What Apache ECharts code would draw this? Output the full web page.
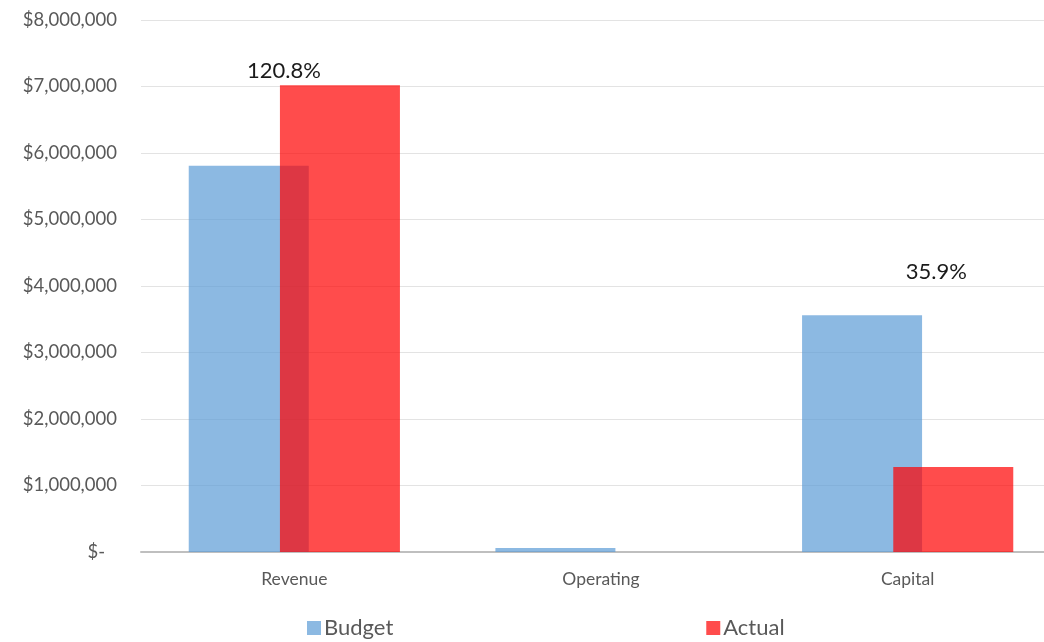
<!DOCTYPE html>
<html><head><meta charset="utf-8">
<script src="https://cdn.jsdelivr.net/npm/echarts@6/dist/echarts.min.js"></script>
<style>html,body{margin:0;padding:0;background:#fff}#c{width:1044px;height:642px}</style>
</head><body><div id="c"></div>
<script>
var categories = ['Revenue', 'Operating', 'Capital'];
var budget = [5810000, 60000, 3560000];
var actual = [7020000, 0, 1278000];
var pctLabels = ['120.8%', '', '35.9%'];
var yTicks = [0, 1000000, 2000000, 3000000, 4000000, 5000000, 6000000, 7000000, 8000000];

var labelOffsets = [[-56, 0], [0, 0], [-17, -181]];
var FONT = 'Lato';

var chart = echarts.init(document.getElementById('c'), null, {renderer: 'canvas'});
chart.setOption({
  animation: false,
  textStyle: {fontFamily: FONT},
  grid: {left: 141, right: -17, top: 20, bottom: 90, containLabel: false, outerBoundsMode: 'none'},
  legend: {
    bottom: -2, left: 302, itemGap: 313, itemWidth: 14, itemHeight: 14,
    icon: 'rect',
    textStyle: {fontSize: 22, color: '#595959', fontFamily: FONT, padding: [0, 0, 0, -2]},
    data: ['Budget', 'Actual']
  },
  xAxis: {
    type: 'category', data: categories,
    axisLine: {lineStyle: {color: '#BFBFBF', width: 2}},
    axisTick: {show: false},
    axisLabel: {fontSize: 17.5, color: '#595959', margin: 18, fontFamily: FONT}
  },
  yAxis: {
    type: 'value', min: yTicks[0], max: yTicks[yTicks.length - 1], interval: 1000000,
    axisLine: {show: false}, axisTick: {show: false},
    splitLine: {lineStyle: {color: '#E3E3E3', width: 1}},
    axisLabel: {
      fontSize: 18.5, color: '#595959', margin: 24, fontFamily: FONT,
      formatter: function (v) {
        if (v === 0) return '{z|$-}';
        return '$' + v.toLocaleString('en-US');
      },
      rich: {z: {fontSize: 18.5, color: '#595959', padding: [0, 12, 0, 0], fontFamily: FONT}}
    }
  },
  series: [
    {
      name: 'Budget', type: 'bar', data: budget,
      barWidth: 120, barGap: '-24%',
      itemStyle: {color: 'rgba(91,155,213,0.7)'}
    },
    {
      name: 'Actual', type: 'bar', barWidth: 120,
      itemStyle: {color: 'rgba(255,0,0,0.7)'},
      data: actual.map(function (v, i) {
        return {
          value: v,
          label: {
            show: pctLabels[i] !== '', position: 'top', distance: 3,
            offset: labelOffsets[i],
            formatter: pctLabels[i], fontSize: 22, color: '#1A1A1A', fontFamily: FONT
          }
        };
      })
    }
  ]
});
</script></body></html>
